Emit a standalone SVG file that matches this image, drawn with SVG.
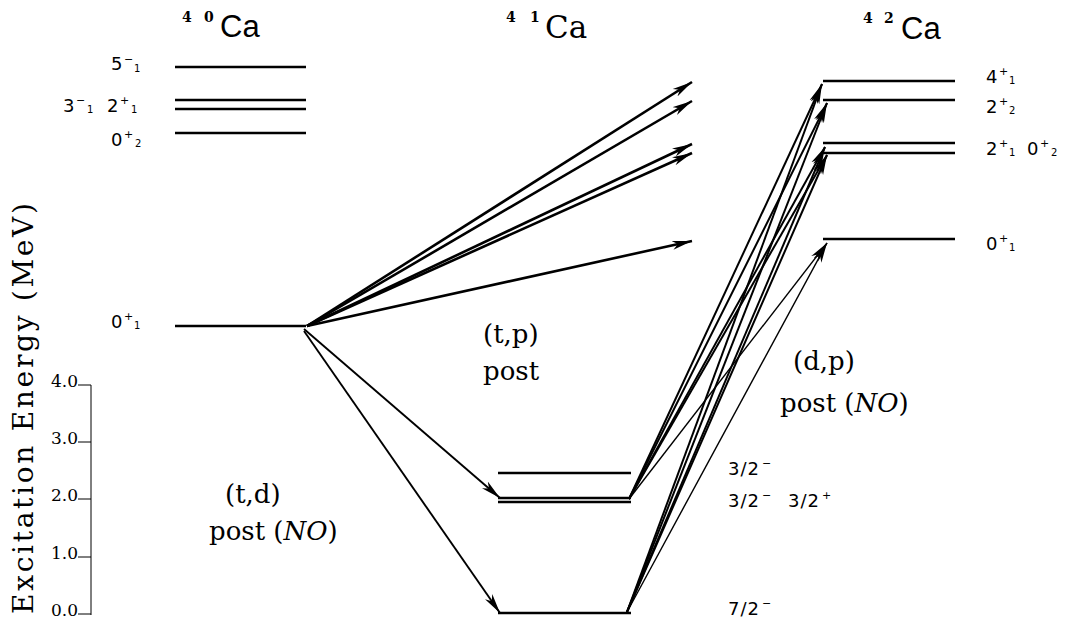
<svg xmlns="http://www.w3.org/2000/svg" width="1065" height="619" viewBox="0 0 1065 619">
<style>
.lv{stroke:#000;stroke-width:2.6;fill:none}
.ar{stroke:#000;fill:none;marker-end:url(#ah)}
.tp{stroke-width:2.6}
.td{stroke-width:1.9}
.dp{stroke-width:2}
.thin{stroke-width:1.4}
.lab{font-family:"DejaVu Sans",sans-serif;font-size:18px;fill:#000}
.sup{font-family:"DejaVu Sans",sans-serif;font-size:11px;fill:#000}
.sub{font-family:"DejaVu Sans",sans-serif;font-size:10px;fill:#000}
.ser{font-family:"DejaVu Serif",serif;fill:#000}
.ttl{font-family:"Liberation Sans",sans-serif;font-size:31px;fill:#000}
.iso{font-family:"DejaVu Serif",serif;font-size:14px;font-weight:bold;fill:#000}
.rx{font-family:"DejaVu Serif",serif;font-size:26px;fill:#000}
.ax{font-family:"DejaVu Serif",serif;font-size:17px;fill:#000;text-anchor:end}
</style>
<defs>
<marker id="ah" markerUnits="userSpaceOnUse" markerWidth="20" markerHeight="10" refX="18" refY="4" orient="auto" viewBox="0 0 18 8">
<path d="M0,0 L18,4 L0,8 L5,4 z" fill="#000"/>
</marker>
</defs>
<rect width="1065" height="619" fill="#fff"/>

<g id="axis">
<line x1="91" y1="385" x2="91" y2="615" stroke="#000" stroke-width="1"/>
<line x1="78" y1="385" x2="91" y2="385" stroke="#000" stroke-width="1"/>
<line x1="78" y1="442" x2="91" y2="442" stroke="#000" stroke-width="1"/>
<line x1="78" y1="499" x2="91" y2="499" stroke="#000" stroke-width="1"/>
<line x1="78" y1="557" x2="91" y2="557" stroke="#000" stroke-width="1"/>
<line x1="78" y1="614" x2="91" y2="614" stroke="#000" stroke-width="1"/>
<text class="ax" x="78" y="387">4.0</text>
<text class="ax" x="78" y="444">3.0</text>
<text class="ax" x="78" y="501">2.0</text>
<text class="ax" x="78" y="559">1.0</text>
<text class="ax" x="78" y="616">0.0</text>
<text class="ser" font-size="28" transform="translate(33,614) rotate(-90)" x="0" y="0" textLength="411" lengthAdjust="spacing">Excitation Energy (MeV)</text>
</g>

<g id="ca40">
<text class="iso" x="182" y="22">4</text>
<text class="iso" x="204" y="22">0</text>
<text class="ttl" x="220" y="37">Ca</text>
<line class="lv" x1="175" y1="67" x2="306" y2="67"/>
<line class="lv" x1="175" y1="100" x2="306" y2="100"/>
<line class="lv" x1="175" y1="109" x2="306" y2="109"/>
<line class="lv" x1="175" y1="133" x2="306" y2="133"/>
<line class="lv" x1="175" y1="326" x2="306" y2="326"/>
<text class="lab" x="111" y="70">5</text><text class="sup" x="124" y="63">−</text><text class="sub" x="134" y="72">1</text>
<text class="lab" x="63" y="112">3</text><text class="sup" x="76" y="104">−</text><text class="sub" x="87" y="113">1</text>
<text class="lab" x="107" y="112">2</text><text class="sup" x="120" y="104">+</text><text class="sub" x="131" y="113">1</text>
<text class="lab" x="111" y="146">0</text><text class="sup" x="124" y="138">+</text><text class="sub" x="135" y="147">2</text>
<text class="lab" x="111" y="328">0</text><text class="sup" x="124" y="320">+</text><text class="sub" x="134" y="329">1</text>
</g>

<g id="ca41">
<text class="iso" x="506" y="22">4</text>
<text class="iso" x="530" y="22">1</text>
<text class="ser" font-size="31" x="545" y="38">Ca</text>
<line class="lv" x1="498" y1="473" x2="631" y2="473"/>
<line class="lv" x1="498" y1="498" x2="631" y2="498"/>
<line class="lv" x1="498" y1="502" x2="631" y2="502"/>
<line class="lv" x1="498" y1="613" x2="631" y2="613"/>
<text class="lab" font-size="19" x="728" y="475" letter-spacing="1">3/2</text><text class="sup" x="762" y="467">−</text>
<text class="lab" font-size="19" x="728" y="507" letter-spacing="1">3/2</text><text class="sup" x="762" y="499">−</text>
<text class="lab" font-size="19" x="788" y="507" letter-spacing="1">3/2</text><text class="sup" x="822" y="499">+</text>
<text class="lab" font-size="19" x="728" y="615" letter-spacing="1">7/2</text><text class="sup" x="762" y="607">−</text>
</g>

<g id="ca42">
<text class="iso" x="863" y="23">4</text>
<text class="iso" x="884" y="23">2</text>
<text class="ttl" x="901" y="39">Ca</text>
<line class="lv" x1="823" y1="81" x2="955" y2="81"/>
<line class="lv" x1="823" y1="100" x2="955" y2="100"/>
<line class="lv" x1="823" y1="143" x2="955" y2="143"/>
<line class="lv" x1="823" y1="153" x2="955" y2="153"/>
<line class="lv" x1="823" y1="239" x2="955" y2="239"/>
<text class="lab" x="986" y="83">4</text><text class="sup" x="999" y="75">+</text><text class="sub" x="1009" y="84">1</text>
<text class="lab" x="986" y="113">2</text><text class="sup" x="999" y="105">+</text><text class="sub" x="1009" y="114">2</text>
<text class="lab" x="986" y="155">2</text><text class="sup" x="999" y="147">+</text><text class="sub" x="1009" y="156">1</text>
<text class="lab" x="1027" y="155">0</text><text class="sup" x="1040" y="147">+</text><text class="sub" x="1051" y="156">2</text>
<text class="lab" x="986" y="250">0</text><text class="sup" x="999" y="242">+</text><text class="sub" x="1009" y="251">1</text>
</g>

<g id="labels">
<text class="rx" x="483" y="343">(t,p)</text>
<text class="rx" x="483" y="380">post</text>
<text class="rx" x="793" y="370">(d,p)</text>
<text class="rx" x="780" y="412">post (<tspan font-style="italic">NO</tspan>)</text>
<text class="rx" x="225" y="503">(t,d)</text>
<text class="rx" x="209" y="540">post (<tspan font-style="italic">NO</tspan>)</text>
</g>

<g id="connectors">
<line class="ar tp" x1="307" y1="326" x2="692" y2="82"/>
<line class="ar tp" x1="307" y1="326" x2="692" y2="101"/>
<line class="ar tp" x1="307" y1="326" x2="692" y2="144"/>
<line class="ar tp" x1="307" y1="326" x2="692" y2="153"/>
<line class="ar tp" x1="307" y1="326" x2="692" y2="241"/>
<line class="ar td" x1="304" y1="329" x2="500" y2="498"/>
<line class="ar td" x1="304" y1="331" x2="500" y2="613"/>
<line class="ar dp" x1="629" y1="499" x2="822" y2="84"/>
<line class="ar dp" x1="629" y1="499" x2="827" y2="103"/>
<line class="ar dp" x1="629" y1="499" x2="825" y2="147"/>
<line class="ar dp" x1="629" y1="499" x2="827" y2="155"/>
<line class="ar thin" x1="629" y1="499" x2="827" y2="243"/>
<line class="ar dp" x1="627" y1="612" x2="822" y2="84"/>
<line class="ar dp" x1="627" y1="612" x2="827" y2="103"/>
<line class="ar dp" x1="627" y1="612" x2="825" y2="147"/>
<line class="ar dp" x1="627" y1="612" x2="827" y2="155"/>
<line class="ar thin" x1="627" y1="612" x2="827" y2="243"/>
</g>
</svg>
